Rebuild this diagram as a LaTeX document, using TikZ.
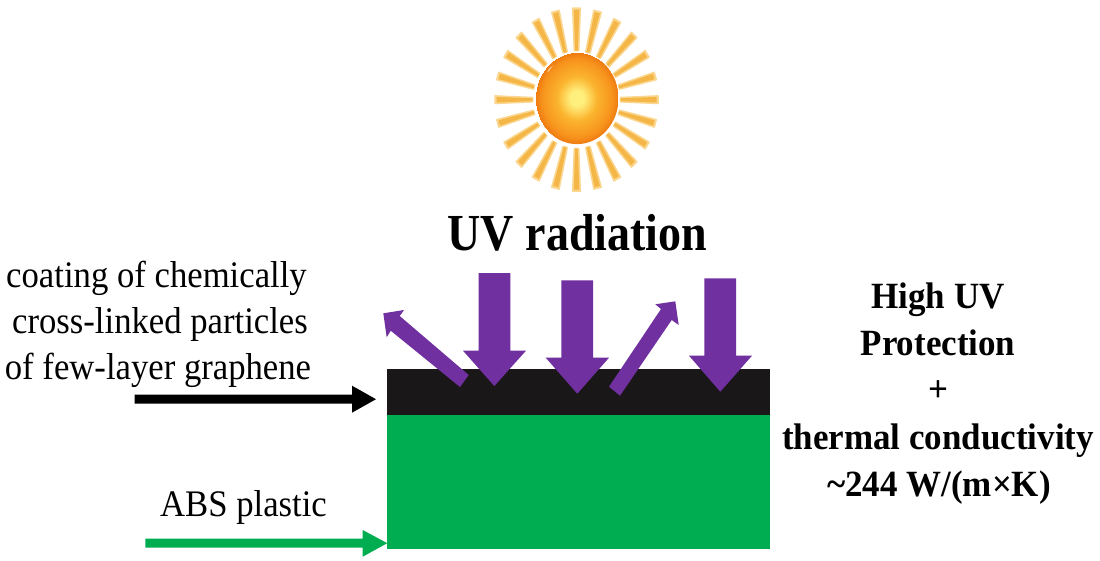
\documentclass[tikz,border=0pt]{standalone}
\usepackage{fontspec}
\setmainfont{Liberation Serif}
\definecolor{sunc}{HTML}{FFF07E}
\definecolor{sunb}{HTML}{FBB42E}
\definecolor{sund}{HTML}{F7941D}
\definecolor{sune}{HTML}{EF7A10}
\definecolor{rayout}{HTML}{FBD68E}
\definecolor{raymid}{HTML}{F5B648}
\definecolor{uvpurple}{HTML}{7030A0}
\definecolor{coat}{HTML}{1A1718}
\definecolor{absgreen}{HTML}{00AD50}
\pgfdeclareradialshading{sunball}{\pgfpointorigin}{
 color(0bp)=(sunc);color(4bp)=(sunc);color(12bp)=(sunb);color(21bp)=(sund);color(25bp)=(sune)}
\tikzset{
 x=1pt,y=-1pt,
 lbl/.style={font=\fontsize{37.5}{37.5}\selectfont,anchor=base,inner sep=0pt,text=black,xscale=.925,transform shape},
 blbl/.style={font=\fontsize{37}{37}\selectfont\bfseries,anchor=base,inner sep=0pt,text=black,xscale=.945,transform shape},
 ttl/.style={font=\fontsize{52}{52}\selectfont\bfseries,anchor=base,inner sep=0pt,text=black,xscale=.885,transform shape},
 uvarrow/.style={fill=uvpurple,draw=none},
}
\begin{document}
\begin{tikzpicture}
\useasboundingbox (0,0) rectangle (1100,560);
\fill[white] (0,0) rectangle (1100,560);
% sun rays
\begin{scope}[shift={(576.5,99.7)}]
\foreach \a in {0,15,...,345}{
 \pgfmathsetmacro\ca{cos(\a)}\pgfmathsetmacro\sa{sin(\a)}
 \fill[rayout,line join=round,draw=rayout,line width=1.5pt]
   ({44*\ca-2.2*\sa},{49*\sa+2.2*\ca}) -- ({81.5*\ca-3.8*\sa},{91.5*\sa+3.8*\ca})
   -- ({81.5*\ca+3.8*\sa},{91.5*\sa-3.8*\ca}) -- ({44*\ca+2.2*\sa},{49*\sa-2.2*\ca}) -- cycle;
 \fill[raymid]
   ({44*\ca-1.4*\sa},{49*\sa+1.4*\ca}) -- ({80*\ca-2.8*\sa},{90*\sa+2.8*\ca})
   -- ({80*\ca+2.8*\sa},{90*\sa-2.8*\ca}) -- ({44*\ca+1.4*\sa},{49*\sa-1.4*\ca}) -- cycle;
}
\end{scope}
\begin{scope}[shift={(577,98.3)}]
\shade[shading=sunball] (0,0) ellipse [x radius=41.5,y radius=45.8];
\fill[white,opacity=.55] (-30,-26) to[bend left=15] (-24,-33) to[bend right=5] (-28,-27) -- cycle;
\end{scope}
% layers
\fill[absgreen] (387,414) rectangle (770,549);
\fill[coat] (387,369) rectangle (770,414.5);
% vertical arrows
\fill[uvarrow] (478.7,273) -- (510.3,273) -- (510.3,350.7) -- (526,350.7) -- (494.3,386) -- (463,350.7) -- (478.7,350.7) -- cycle;
\fill[uvarrow] (561.3,280.3) -- (593,280.3) -- (593,357.7) -- (609,357.7) -- (577.3,393.7) -- (545.7,357.7) -- (561.3,357.7) -- cycle;
\fill[uvarrow] (704.3,278.3) -- (736,278.3) -- (736,355.7) -- (752,355.7) -- (720.3,391.7) -- (689,355.7) -- (704.3,355.7) -- cycle;
% reflected arrows
\fill[uvarrow] (468.7,375) -- (460,387) -- (390.7,330.7) -- (386.7,337.3) -- (383.3,313.3) -- (404,310) -- (399.7,316) -- cycle;
\fill[uvarrow] (609,386.7) -- (620,395.7) -- (671.7,320) -- (678.7,325) -- (675.3,301.3) -- (655.3,304.3) -- (661,309) -- cycle;
% side arrows
\fill[black] (134.7,394.7) -- (352,394.7) -- (352,385.7) -- (376,399.2) -- (352,412.7) -- (352,403.7) -- (134.7,403.7) -- cycle;
\fill[absgreen] (145.3,538.7) -- (362.7,538.7) -- (362.7,530) -- (387.3,543.2) -- (362.7,556.7) -- (362.7,547.7) -- (145.3,547.7) -- cycle;
% text
\node[ttl] (uv) at (577.5,250.5) {UV radiation};
\node[lbl] (c1) at (156.5,287) {coating of chemically};
\node[lbl] (c2) at (160,333.5) {cross-linked particles};
\node[lbl] (c3) at (158,379.5) {of few-layer graphene};
\node[lbl] (abs) at (243.5,516) {ABS plastic};
\node[blbl] (r1) at (938,308) {High UV};
\node[blbl] (r2) at (938,355) {Protection};
\node[blbl] (r3) at (938,401) {+};
\node[blbl] (r4) at (938,449) {thermal conductivity};
\node[blbl] (r5) at (939,496) {\symbol{126}244 W/(m×K)};
\end{tikzpicture}
\end{document}
